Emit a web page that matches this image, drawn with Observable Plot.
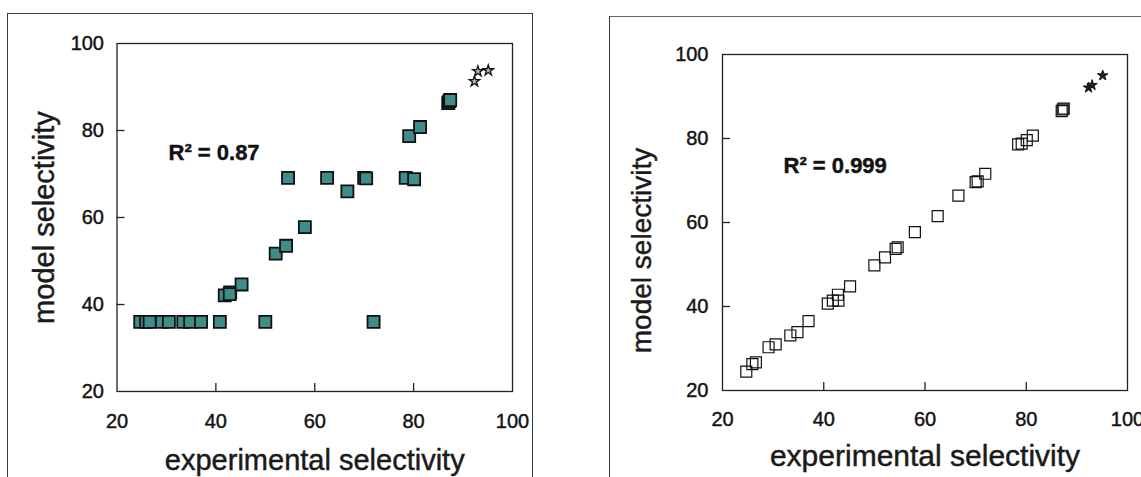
<!DOCTYPE html>
<html><head><meta charset="utf-8">
<script src="https://cdn.jsdelivr.net/npm/d3@7"></script>
<script src="https://cdn.jsdelivr.net/npm/@observablehq/plot@0.6"></script>
<style>
html,body{margin:0;padding:0;background:#fff;}
#wrap{position:relative;width:1141px;height:477px;overflow:hidden;font-family:"Liberation Sans",Arial,sans-serif;}
.panel{position:absolute;top:0;}
.border{position:absolute;border:1.5px solid #3a3a3a;}
#wrap svg text{stroke:#1a1a1a;stroke-width:0.45px;}
</style></head><body>
<div id="wrap">
  <div class="border" style="left:7px;top:13px;width:524px;height:520px;"></div>
  <div class="border" style="left:609px;top:16px;width:620px;height:520px;border-top-color:#666;"></div>
  <div id="left" class="panel" style="left:0px"></div>
  <div id="right" class="panel" style="left:580px"></div>
</div>
<script>
// ---- data ----
const experimental = [24.7, 25.9, 26.6, 29.1, 30.5, 33.4, 34.8, 37.0, 40.8, 41.8, 42.9, 42.8, 45.2, 50.0, 52.1, 54.2, 54.6, 58.0, 62.5, 66.6, 70.0, 70.4, 71.9, 78.4, 79.1, 80.1, 81.3, 87.0, 87.2, 87.4];
const modelLeft  = [36, 36, 36, 36, 36, 36, 36, 36, 36, 42.1, 42.8, 42.4, 44.6, 36, 51.7, 53.5, 69.1, 57.8, 69.1, 66.0, 69.1, 69.0, 36, 69.1, 78.7, 68.8, 80.8, 86.3, 86.7, 87.0];
const modelRight = [24.5, 26.3, 26.7, 30.3, 31.0, 33.1, 33.9, 36.5, 40.7, 41.4, 41.4, 42.8, 44.8, 49.8, 51.7, 53.7, 54.1, 57.7, 61.5, 66.4, 69.6, 69.8, 71.6, 78.6, 78.8, 79.6, 80.7, 86.5, 86.9, 87.1];
const starExperimental = [92.3, 93.0, 95.1];
const starModelLeft  = [91.3, 93.6, 93.8];
const starModelRight = [92.1, 92.7, 95.0];
const tickLabels = [20, 40, 60, 80, 100];
const innerTicks = [40, 60, 80];
const xTitle = "experimental selectivity";
const yTitle = "model selectivity";
const r2Left = "R² = 0.87";
const r2Right = "R² = 0.999";

function rows(xs, ys) { return xs.map((x, i) => ({exp: x, model: ys[i]})); }

function makePanel(o) {
  const fw = o.width - o.ml - o.mr;   // frame width in px
  const fh = o.height - o.mt - o.mb;  // frame height in px
  const tick = 8;
  return Plot.plot({
    width: o.width, height: o.height,
    marginLeft: o.ml, marginRight: o.mr, marginTop: o.mt, marginBottom: o.mb,
    style: {fontFamily: '"Liberation Sans", Arial, sans-serif', fontSize: "20px", background: "transparent", overflow: "visible", color: "#111"},
    x: {domain: [20, 100]},
    y: {domain: [20, 100]},
    marks: [
      Plot.frame({stroke: "#222", strokeWidth: 1.3}),
      Plot.axisX({ticks: tickLabels, tickSize: 0, tickPadding: o.xpad, fontSize: 20, label: null, color: "#111"}),
      Plot.axisY({ticks: tickLabels, tickSize: 0, tickPadding: o.ypad, fontSize: 20, label: null, color: "#111"}),
      Plot.tickX(innerTicks, {x: d => d, insetTop: fh - tick, stroke: "#222", strokeWidth: 1.3}),
      Plot.tickY(innerTicks, {y: d => d, insetRight: fw - tick, stroke: "#222", strokeWidth: 1.3}),
      Plot.dot(rows(experimental, o.model), {x: "exp", y: "model", symbol: "square", r: o.sqR, ...o.sqStyle}),
      Plot.dot(rows(starExperimental, o.starModel), {x: "exp", y: "model", symbol: "star", r: 3.3, ...o.starStyle}),
      Plot.text([xTitle], {text: d => d, frameAnchor: "bottom", dy: o.xtDy, fontSize: o.xtSize, textAnchor: "middle", lineAnchor: "middle", fill: "#1a1a1a"}),
      Plot.text([yTitle], {text: d => d, frameAnchor: "left", dx: o.ytDx, dy: o.ytDy, rotate: -90, fontSize: o.ytSize, textAnchor: "middle", lineAnchor: "middle", fill: "#1a1a1a"}),
      Plot.text([o.r2], {text: d => d, frameAnchor: "top-left", dx: o.r2dx, dy: o.r2dy, textAnchor: "start", lineAnchor: "middle", fontWeight: "bold", fontSize: 22, fill: "#111"})
    ]
  });
}

document.getElementById("left").appendChild(makePanel({
  width: 560, height: 477, ml: 116.5, mr: 48, mt: 43, mb: 86,
  xpad: 22, ypad: 13,
  model: modelLeft, starModel: starModelLeft,
  sqR: 6.8, sqStyle: {fill: "#3f8d88", stroke: "#111", strokeWidth: 1.8},
  starStyle: {fill: "#bbb", stroke: "#111", strokeWidth: 1.3},
  xtDy: 69, xtSize: 29, ytDx: -72, ytDy: 0, ytSize: 29,
  r2: r2Left, r2dx: 51.5, r2dy: 109
}));

document.getElementById("right").appendChild(makePanel({
  width: 561, height: 477, ml: 142, mr: 14, mt: 54, mb: 87,
  xpad: 21, ypad: 14,
  model: modelRight, starModel: starModelRight,
  sqR: 6.2, sqStyle: {fill: "none", stroke: "#111", strokeWidth: 1.2},
  starStyle: {fill: "#222", stroke: "#111", strokeWidth: 1},
  xtDy: 66, xtSize: 30, ytDx: -80, ytDy: 28, ytSize: 28,
  r2: r2Right, r2dx: 61, r2dy: 111
}));
</script>
</body></html>
